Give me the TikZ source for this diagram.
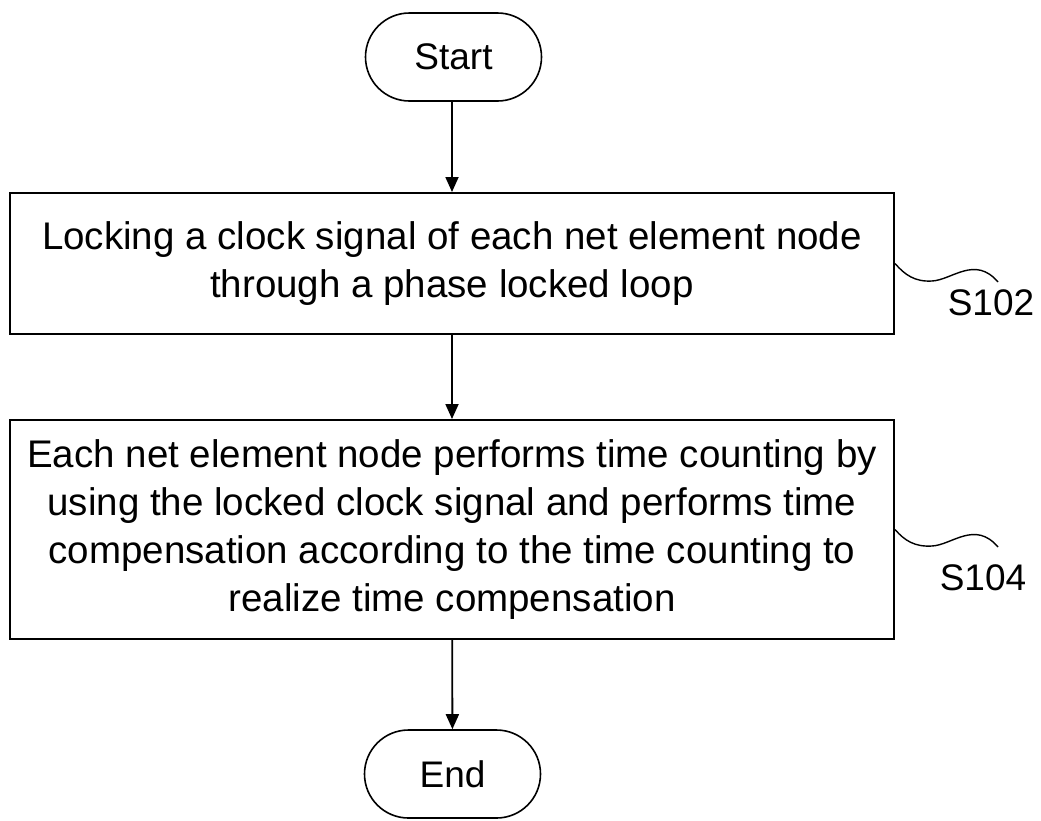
\documentclass[tikz,border=0pt]{standalone}
\usepackage{fontspec}
\setmainfont{Liberation Sans}
\usetikzlibrary{arrows.meta}
\begin{document}
\begin{tikzpicture}[x=1pt,y=-1pt,
  every node/.style={font=\fontsize{38.5}{48}\selectfont},
  term/.style={draw,line width=1.6pt,rounded corners=44pt,minimum width=176pt,minimum height=88pt,inner sep=0pt,font=\fontsize{37}{44}\selectfont},
  procbox/.style={draw,line width=2pt,minimum width=884pt,align=center,inner sep=0pt},
  flow/.style={line width=1.8pt,-{Triangle[length=15pt,width=13pt]}},
  lbl/.style={line width=1.4pt},
  steplbl/.style={inner sep=0pt,font=\fontsize{37}{44}\selectfont}]
\useasboundingbox (0,0) rectangle (1041,820);
\node[term] (start) at (453.5,57) {Start};
\node[procbox,minimum height=141pt] (b1) at (452,263.5) {Locking a clock signal of each net element node\\through a phase locked loop};
\node[procbox,minimum height=219pt] (b2) at (452,529.5) {Each net element node performs time counting by\\using the locked clock signal and performs time\\compensation according to the time counting to\\realize time compensation};
\node[term] (end) at (452.5,774) {End};
\draw[flow] (start.south -| b1.north) -- (b1.north);
\draw[flow] (b1) -- (b2);
\draw[flow] (b2) -- (end);
\coordinate (c1) at (998,282);
\coordinate (c2) at (998,547);
\draw[lbl] (b1.east) .. controls (905,275) and (915,282) .. (932,281) .. controls (952,280) and (975,255) .. (c1);
\draw[lbl] (b2.east) .. controls (905,541) and (915,547) .. (932,546) .. controls (952,545) and (975,520) .. (c2);
\node[steplbl] (s102) at (991,303) {S102};
\node[steplbl] (s104) at (983,578) {S104};
\end{tikzpicture}
\end{document}
